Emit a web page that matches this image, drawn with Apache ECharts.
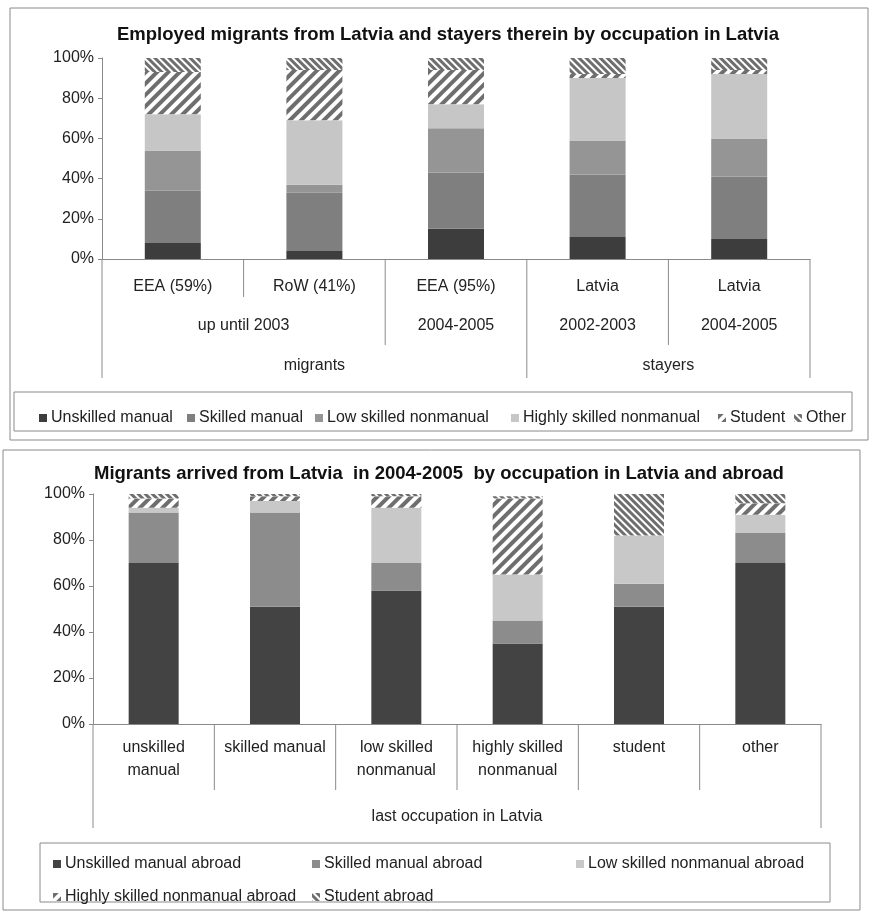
<!DOCTYPE html>
<html>
<head>
<meta charset="utf-8">
<script src="https://cdn.jsdelivr.net/npm/echarts@6/dist/echarts.min.js"></script>
<style>
html, body { margin: 0; padding: 0; background: #fff; }
#chart { width: 873px; height: 920px; }
</style>
</head>
<body>
<div id="chart"></div>
<script>
// upper chart: employed migrants / stayers by occupation in Latvia (% of each column)
var topCats = ['EEA (59%)', 'RoW (41%)', 'EEA (95%)', 'Latvia', 'Latvia'];
var topPeriods = [['up until 2003', 2], ['2004-2005', 1], ['2002-2003', 1], ['2004-2005', 1]];
var topGroups = [['migrants', 3], ['stayers', 2]];
var topNames = ['Unskilled manual', 'Skilled manual', 'Low skilled nonmanual', 'Highly skilled nonmanual', 'Student', 'Other'];
var unskilled   = [8, 4, 15, 11, 10];
var skilled     = [26, 29, 28, 31, 31];
var lowSkilled  = [20, 4, 22, 17, 19];
var highSkilled = [18, 32, 12, 31, 32];
var student     = [21, 25, 17, 2, 2];
var other       = [7, 6, 6, 8, 6];

// lower chart: migrants of 2004-2005 by last occupation in Latvia and occupation abroad
var lastOcc = ['unskilled\nmanual', 'skilled manual', 'low skilled\nnonmanual', 'highly skilled\nnonmanual', 'student', 'other'];
var lastOccTitle = 'last occupation in Latvia';
var abroadNames = ['Unskilled manual abroad', 'Skilled manual abroad', 'Low skilled nonmanual abroad', 'Highly skilled nonmanual abroad', 'Student abroad'];
var unskilledAbroad   = [70, 51, 58, 35, 51, 70];
var skilledAbroad     = [22, 41, 12, 10, 10, 13];
var lowSkilledAbroad  = [2, 5, 24, 20, 21, 8];
var highSkilledAbroad = [4, 2, 5, 33, 0, 5];
var studentAbroad     = [2, 1, 1, 1, 18, 4];

var FONT = '"Liberation Sans", Arial, sans-serif';
var TXT = '#222';

// "/" wide hatch and "\" narrow hatch
var slash = { symbol: 'rect', color: '#6e6e6e', dashArrayX: [1, 0], dashArrayY: [4, 4], rotation: -Math.PI / 4 };
var backslash = { symbol: 'rect', color: '#6e6e6e', dashArrayX: [1, 0], dashArrayY: [3, 2], rotation: Math.PI / 4 };

function bar(name, data, idx, color, width, decal) {
    var s = {
        name: name, type: 'bar', stack: 'st' + idx,
        xAxisIndex: idx, yAxisIndex: idx,
        barWidth: width, data: data,
        itemStyle: { color: color },
        emphasis: { disabled: true }
    };
    if (decal) s.itemStyle.decal = decal;
    return s;
}

function xAx(idx, grid, cats, margin) {
    return {
        type: 'category', gridIndex: grid, data: cats,
        axisLine: { lineStyle: { color: '#8a8a8a' } },
        axisTick: { show: false },
        axisLabel: { color: TXT, fontSize: 16, fontFamily: FONT, margin: margin, lineHeight: 23, interval: 0 }
    };
}
function yAx(grid) {
    return {
        type: 'value', gridIndex: grid, min: 0, max: 100, interval: 20,
        axisLine: { show: true, lineStyle: { color: '#8a8a8a' } },
        axisTick: { show: true, length: 4, lineStyle: { color: '#8a8a8a' } },
        splitLine: { show: false },
        axisLabel: { color: TXT, fontSize: 16, fontFamily: FONT, margin: 8, formatter: '{value}%' }
    };
}

// one legend component per entry so the columns sit where they do in the scan
var legendSpots = [
    [0, 34, 405], [1, 182, 405], [2, 310, 405], [3, 506, 405], [4, 713, 405], [5, 789, 405],
    [6, 48, 851], [7, 307, 851], [8, 571, 851], [9, 48, 884], [10, 307, 884]
];
var allNames = topNames.concat(abroadNames);
var legends = legendSpots.map(function (p) {
    return {
        data: [allNames[p[0]]], left: p[1], top: p[2],
        icon: 'rect', itemWidth: 8, itemHeight: 8, itemGap: 4,
        selectedMode: false,
        textStyle: { color: TXT, fontSize: 16, fontFamily: FONT, padding: [0, 0, 0, -1] }
    };
});

var option = {
    animation: false,
    backgroundColor: '#fff',
    title: [
        { text: 'Employed migrants from Latvia and stayers therein by occupation in Latvia', left: 112, top: 20,
          textStyle: { fontSize: 18.5, fontWeight: 'bold', fontFamily: FONT, color: '#111' } },
        { text: 'Migrants arrived from Latvia  in 2004-2005  by occupation in Latvia and abroad', left: 89, top: 459,
          textStyle: { fontSize: 18.5, fontWeight: 'bold', fontFamily: FONT, color: '#111' } }
    ],
    legend: legends,
    grid: [
        { left: 102, top: 58, width: 708, height: 201 },
        { left: 93, top: 494, width: 728, height: 230 }
    ],
    xAxis: [xAx(0, 0, topCats, 16), xAx(1, 1, lastOcc, 12)],
    yAxis: [yAx(0), yAx(1)],
    series: [
        bar(topNames[0], unskilled, 0, '#3d3d3d', 56),
        bar(topNames[1], skilled, 0, '#7f7f7f', 56),
        bar(topNames[2], lowSkilled, 0, '#959595', 56),
        bar(topNames[3], highSkilled, 0, '#c6c6c6', 56),
        bar(topNames[4], student, 0, '#ffffff', 56, slash),
        bar(topNames[5], other, 0, '#ffffff', 56, backslash),
        bar(abroadNames[0], unskilledAbroad, 1, '#434343', 50),
        bar(abroadNames[1], skilledAbroad, 1, '#8c8c8c', 50),
        bar(abroadNames[2], lowSkilledAbroad, 1, '#c8c8c8', 50),
        bar(abroadNames[3], highSkilledAbroad, 1, '#ffffff', 50, slash),
        bar(abroadNames[4], studentAbroad, 1, '#ffffff', 50, backslash)
    ]
};

var chart = echarts.init(document.getElementById('chart'));
chart.setOption(option);

// multi-level category labels and frames, placed from the axis scale
function line(x1, y1, x2, y2) {
    return { type: 'line', silent: true, shape: { x1: x1, y1: y1, x2: x2, y2: y2 },
             style: { stroke: '#8a8a8a', lineWidth: 1 } };
}
function label(t, x, y) {
    return { type: 'text', silent: true, x: x, y: y,
             style: { text: t, font: '16px ' + FONT, fill: TXT, textAlign: 'center', textVerticalAlign: 'middle', align: 'center', verticalAlign: 'middle' } };
}
function edges(axisIdx, n) {
    var c0 = chart.convertToPixel({ xAxisIndex: axisIdx }, 0);
    var c1 = chart.convertToPixel({ xAxisIndex: axisIdx }, 1);
    var band = c1 - c0, out = [];
    for (var i = 0; i <= n; i++) out.push(c0 - band / 2 + i * band);
    return out;
}

var els = [];
// frames
els.push({ type: 'rect', silent: true, shape: { x: 10, y: 8, width: 858, height: 432 }, style: { fill: 'none', stroke: '#8a8a8a', lineWidth: 1 } });
els.push({ type: 'rect', silent: true, shape: { x: 14, y: 392, width: 838, height: 39 }, style: { fill: 'none', stroke: '#8a8a8a', lineWidth: 1 } });
els.push({ type: 'rect', silent: true, shape: { x: 3, y: 450, width: 857, height: 460 }, style: { fill: 'none', stroke: '#8a8a8a', lineWidth: 1 } });
els.push({ type: 'rect', silent: true, shape: { x: 40, y: 843, width: 790, height: 59 }, style: { fill: 'none', stroke: '#8a8a8a', lineWidth: 1 } });

// upper chart: three label levels
var e = edges(0, topCats.length);
var axY = 259, lv1 = 297, lv2 = 345, lv3 = 378;
var periodEnds = [], groupEnds = [], k = 0;
topPeriods.forEach(function (p) {
    els.push(label(p[0], (e[k] + e[k + p[1]]) / 2, 326));
    k += p[1]; periodEnds.push(k);
});
k = 0;
topGroups.forEach(function (g) {
    els.push(label(g[0], (e[k] + e[k + g[1]]) / 2, 366));
    k += g[1]; groupEnds.push(k);
});
for (var i = 0; i <= topCats.length; i++) {
    var depth = lv1;
    if (i === 0 || i === topCats.length || groupEnds.indexOf(i) >= 0) depth = lv3;
    else if (periodEnds.indexOf(i) >= 0) depth = lv2;
    els.push(line(e[i], axY, e[i], depth));
}

// lower chart: categories plus one group label
var f = edges(1, lastOcc.length);
for (var j = 0; j <= lastOcc.length; j++) {
    var d = (j === 0 || j === lastOcc.length) ? 828 : 790;
    els.push(line(f[j], 724, f[j], d));
}
els.push(label(lastOccTitle, (f[0] + f[lastOcc.length]) / 2, 817));

chart.setOption({ graphic: { elements: els } });
</script>
</body>
</html>
